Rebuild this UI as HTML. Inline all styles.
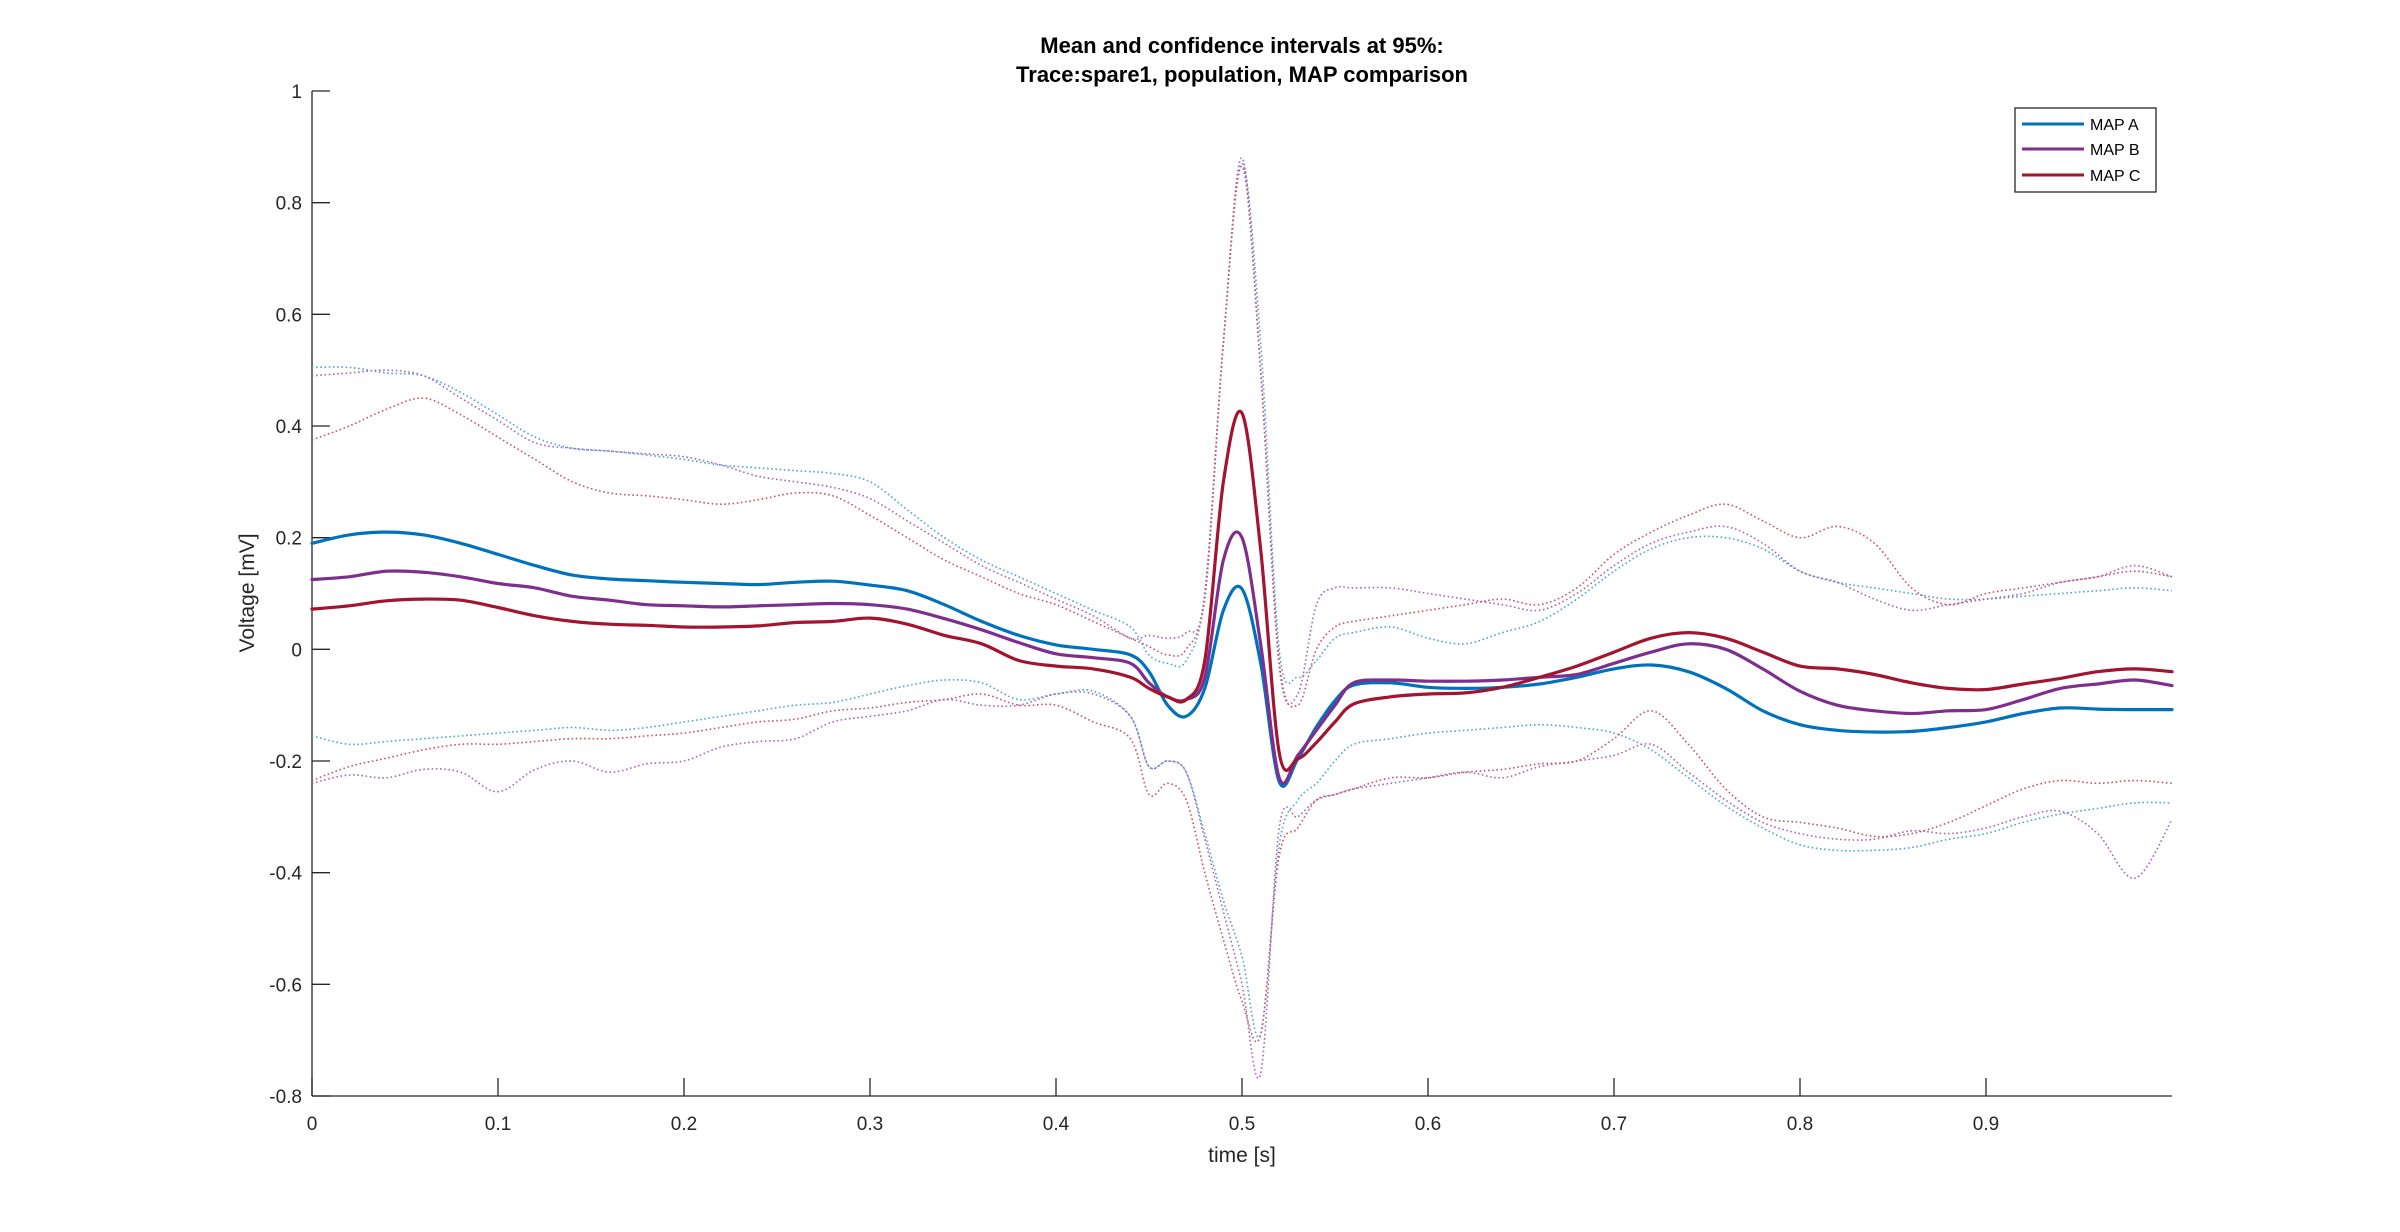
<!DOCTYPE html>
<html><head><meta charset="utf-8">
<style>
html,body{margin:0;padding:0;background:#fff;}
svg{display:block;font-family:"Liberation Sans",Arial,sans-serif;}
</style></head>
<body>
<svg id="chart" width="2400" height="1232" viewBox="0 0 2400 1232">
  <rect width="2400" height="1232" fill="#fff"/>
  <text x="1242" y="53" text-anchor="middle" font-size="22" font-weight="bold" fill="#000">Mean and confidence intervals at 95%:</text>
  <text x="1242" y="82" text-anchor="middle" font-size="22" font-weight="bold" fill="#000">Trace:spare1, population, MAP comparison</text>
  <g id="grid"></g>
  <g id="series"></g>
  <text transform="translate(254,593) rotate(-90)" text-anchor="middle" font-size="21" fill="#262626">Voltage [mV]</text>
  <text x="1242" y="1162" text-anchor="middle" font-size="21" fill="#262626">time [s]</text>
  <g>
    <rect x="2015" y="108" width="141" height="84" fill="#fff" stroke="#262626" stroke-width="1.3"/>
    <line x1="2022" y1="124" x2="2084" y2="124" stroke="#0072BD" stroke-width="3"/>
    <text x="2090" y="130" font-size="16" fill="#000">MAP A</text>
    <line x1="2022" y1="149" x2="2084" y2="149" stroke="#7E2F8E" stroke-width="3"/>
    <text x="2090" y="155" font-size="16" fill="#000">MAP B</text>
    <line x1="2022" y1="175" x2="2084" y2="175" stroke="#A2142F" stroke-width="3"/>
    <text x="2090" y="181" font-size="16" fill="#000">MAP C</text>
  </g>
</svg>
<script>
const times=[0,.02,.04,.06,.08,.10,.12,.14,.16,.18,.20,.22,.24,.26,.28,.30,.32,.34,.36,.38,.40,.42,.44,.45,.46,.47,.48,.49,.50,.51,.52,.53,.54,.55,.56,.58,.60,.62,.64,.66,.68,.70,.72,.74,.76,.78,.80,.82,.84,.86,.88,.90,.92,.94,.96,.98,1.0];
const meanA=[.19,.205,.21,.205,.19,.17,.15,.133,.126,.123,.12,.118,.116,.12,.122,.115,.105,.08,.05,.025,.008,0,-.01,-.04,-.1,-.12,-.07,.07,.108,-.024,-.237,-.196,-.139,-.092,-.064,-.06,-.068,-.07,-.068,-.062,-.05,-.035,-.028,-.04,-.07,-.11,-.135,-.145,-.148,-.147,-.14,-.13,-.115,-.105,-.107,-.108,-.108];
const meanB=[.125,.13,.14,.138,.13,.118,.11,.095,.088,.08,.078,.076,.078,.08,.082,.08,.072,.055,.035,.012,-.008,-.015,-.025,-.06,-.085,-.09,-.05,.16,.2,.01,-.23,-.19,-.145,-.1,-.06,-.055,-.057,-.057,-.055,-.05,-.045,-.025,-.005,.01,0,-.035,-.075,-.1,-.11,-.115,-.11,-.108,-.09,-.07,-.062,-.055,-.065];
const meanC=[.072,.078,.087,.09,.088,.075,.06,.05,.045,.043,.04,.04,.042,.048,.05,.056,.045,.025,.01,-.02,-.03,-.035,-.05,-.07,-.085,-.09,-.02,.3,.423,.18,-.185,-.196,-.167,-.13,-.098,-.085,-.08,-.078,-.068,-.05,-.03,-.005,.02,.03,.02,-.005,-.03,-.035,-.045,-.06,-.07,-.072,-.062,-.052,-.04,-.035,-.04];
const upperA=[.505,.505,.495,.49,.46,.42,.38,.36,.355,.348,.34,.33,.325,.32,.315,.3,.25,.2,.16,.13,.1,.07,.04,-.01,-.025,-.02,.1,.55,.87,.55,0,-.05,-.02,.02,.03,.04,.02,.01,.03,.05,.09,.14,.18,.2,.2,.18,.14,.12,.11,.1,.09,.09,.095,.1,.105,.11,.105];
const upperB=[.49,.495,.5,.49,.45,.41,.37,.36,.355,.35,.345,.33,.31,.3,.29,.27,.23,.19,.15,.12,.09,.06,.02,.025,.02,.03,.09,.55,.88,.5,-.03,-.08,.08,.11,.11,.11,.1,.09,.08,.07,.1,.15,.19,.21,.22,.19,.14,.12,.09,.07,.08,.09,.1,.12,.13,.15,.13];
const upperC=[.375,.4,.43,.45,.42,.38,.34,.3,.28,.275,.268,.26,.268,.28,.275,.24,.2,.16,.13,.1,.08,.05,.02,.005,-.01,.0,.1,.55,.865,.5,-.02,-.1,0,.04,.05,.06,.07,.08,.09,.08,.11,.17,.21,.24,.26,.23,.2,.22,.19,.11,.08,.1,.11,.12,.13,.14,.13];
const lowerA=[-.155,-.17,-.165,-.16,-.155,-.15,-.145,-.14,-.145,-.14,-.13,-.12,-.11,-.1,-.095,-.08,-.065,-.055,-.06,-.09,-.08,-.075,-.12,-.21,-.2,-.22,-.33,-.45,-.55,-.69,-.35,-.27,-.24,-.2,-.17,-.16,-.15,-.145,-.14,-.135,-.14,-.15,-.18,-.23,-.28,-.32,-.35,-.36,-.36,-.355,-.34,-.33,-.31,-.295,-.285,-.275,-.275];
const lowerB=[-.24,-.225,-.23,-.215,-.22,-.255,-.215,-.2,-.22,-.205,-.2,-.175,-.165,-.16,-.13,-.12,-.11,-.09,-.1,-.1,-.08,-.08,-.12,-.21,-.2,-.22,-.34,-.47,-.6,-.76,-.32,-.3,-.27,-.26,-.25,-.24,-.23,-.22,-.23,-.21,-.2,-.19,-.17,-.22,-.27,-.31,-.33,-.34,-.34,-.325,-.33,-.32,-.3,-.29,-.33,-.41,-.305];
const lowerC=[-.235,-.21,-.195,-.18,-.17,-.17,-.165,-.16,-.16,-.155,-.15,-.14,-.13,-.125,-.11,-.105,-.095,-.09,-.08,-.1,-.1,-.13,-.16,-.26,-.24,-.27,-.4,-.52,-.63,-.69,-.37,-.32,-.27,-.26,-.25,-.23,-.23,-.22,-.215,-.205,-.2,-.16,-.11,-.17,-.25,-.3,-.31,-.32,-.335,-.33,-.31,-.28,-.25,-.235,-.24,-.235,-.24];
const xTicks=[0,0.1,0.2,0.3,0.4,0.5,0.6,0.7,0.8,0.9];
const xTickLabels=["0","0.1","0.2","0.3","0.4","0.5","0.6","0.7","0.8","0.9"];
const yTicks=[-0.8,-0.6,-0.4,-0.2,0,0.2,0.4,0.6,0.8,1];
const yTickLabels=["-0.8","-0.6","-0.4","-0.2","0","0.2","0.4","0.6","0.8","1"];

const NS="http://www.w3.org/2000/svg";
const L=312,R=2172,T=91,B=1096,XMIN=0,XMAX=1,YMIN=-0.8,YMAX=1;
function xs(t){return L+(t-XMIN)/(XMAX-XMIN)*(R-L);}
function ys(v){return B-(v-YMIN)/(YMAX-YMIN)*(B-T);}
function mk(tag,attrs,parent){const e=document.createElementNS(NS,tag);for(const k in attrs)e.setAttribute(k,attrs[k]);parent.appendChild(e);return e;}

const grid=document.getElementById('grid');
let ax=mk('line',{x1:L,y1:T,x2:L,y2:B,stroke:'#262626','stroke-width':1.3},grid);


let bx=mk('line',{x1:L,y1:B,x2:R,y2:B,stroke:'#262626','stroke-width':1.3},grid);


xTicks.forEach((t,i)=>{
  const x=xs(t);
  const tk=mk('line',{x1:x,y1:B,x2:x,y2:B-18,stroke:'#262626','stroke-width':1.3},grid);
  
  
  const lb=mk('text',{x:x,y:B+34,'text-anchor':'middle','font-size':19,fill:'#262626'},grid);
  lb.textContent=xTickLabels[i];
  
  
});
yTicks.forEach((v,i)=>{
  const y=ys(v);
  const tk=mk('line',{x1:L,y1:y,x2:L+18,y2:y,stroke:'#262626','stroke-width':1.3},grid);
  
  
  const lb=mk('text',{x:L-10,y:y+7,'text-anchor':'end','font-size':19,fill:'#262626'},grid);
  lb.textContent=yTickLabels[i];
  
  
});

function pathFor(vals){
  const p=times.map((t,i)=>[xs(t),ys(vals[i])]);
  let d='M'+p[0][0].toFixed(1)+','+p[0][1].toFixed(1);
  for(let i=0;i<p.length-1;i++){
    const p0=p[i-1]||p[i],p1=p[i],p2=p[i+1],p3=p[i+2]||p2;
    const c1x=p1[0]+(p2[0]-p0[0])/6,c1y=p1[1]+(p2[1]-p0[1])/6;
    const c2x=p2[0]-(p3[0]-p1[0])/6,c2y=p2[1]-(p3[1]-p1[1])/6;
    d+=' C'+c1x.toFixed(1)+','+c1y.toFixed(1)+' '+c2x.toFixed(1)+','+c2y.toFixed(1)+' '+p2[0].toFixed(1)+','+p2[1].toFixed(1);
  }
  return d;
}
const series=document.getElementById('series');
const dotted=[[upperA,'#4DA3DD','upper-ci-map-a'],[upperB,'#A866B8','upper-ci-map-b'],[upperC,'#C85468','upper-ci-map-c'],[lowerA,'#4DA3DD','lower-ci-map-a'],[lowerB,'#A866B8','lower-ci-map-b'],[lowerC,'#C85468','lower-ci-map-c']];
dotted.forEach(s=>{
  const e=mk('path',{d:pathFor(s[0]),fill:'none',stroke:s[1],'stroke-width':1.6,'stroke-dasharray':'1.6 2.6'},series);
  
  
});
const solid=[[meanA,'#0072BD','mean-line-map-a'],[meanB,'#7E2F8E','mean-line-map-b'],[meanC,'#A2142F','mean-line-map-c']];
solid.forEach(s=>{
  const e=mk('path',{d:pathFor(s[0]),fill:'none',stroke:s[1],'stroke-width':3.2,'stroke-linejoin':'round','stroke-linecap':'round'},series);
  
  
});
</script>
</body></html>
